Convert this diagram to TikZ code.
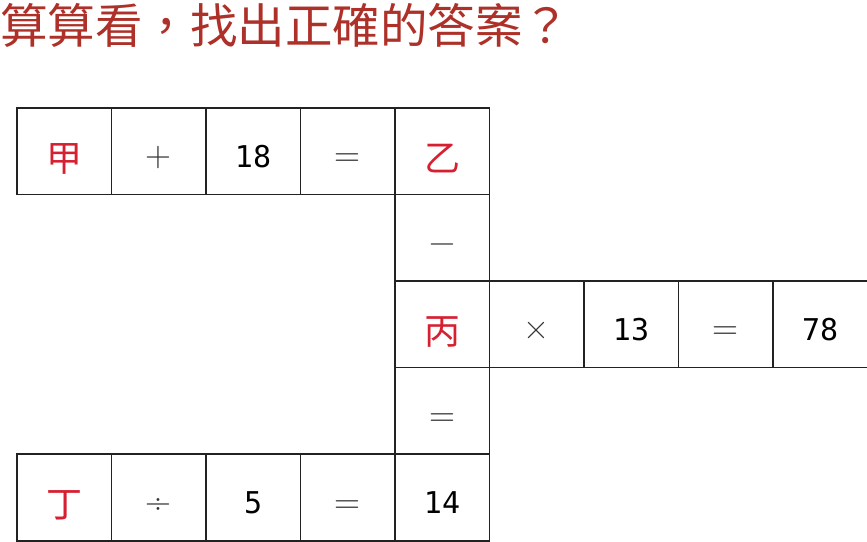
\documentclass[tikz,border=0pt]{standalone}
\usepackage{fontspec}
\newfontfamily\cjk{Noto Sans CJK TC}
\newfontfamily\digitfont{DejaVu Sans Mono}
\definecolor{titlered}{HTML}{AE3129}
\definecolor{charred}{HTML}{D61F30}
\definecolor{linegray}{HTML}{222222}
\definecolor{opgray}{HTML}{333333}
\begin{document}
\begin{tikzpicture}[x=1pt,y=-1pt,
  cellbox/.style={draw=linegray,line width=1.6pt,minimum width=94.5pt,minimum height=86.6pt,inner sep=0pt,anchor=north west,text depth=0pt},
  redch/.style={cellbox,text=charred,font=\cjk\fontsize{36}{36}\selectfont,text height=40pt},
  opch/.style={cellbox,text=opgray,font=\fontsize{36}{36}\selectfont,text height=31pt},
  numch/.style={cellbox,text=black,font=\digitfont\fontsize{30}{30}\selectfont,text height=32pt}]
\useasboundingbox (0,0) rectangle (867,541);
\node[anchor=west,text=titlered,font=\cjk\fontsize{47.5}{47.5}\selectfont,inner sep=0pt] (title) at (0,25) {算算看，找出正確的答案？};
% row 0
\node[redch] (a1) at (16,107) {甲};
\node[opch]  (a2) at (110.5,107) {+};
\node[numch] (a3) at (205,107) {18};
\node[opch]  (a4) at (299.5,107) {=};
\node[redch] (a5) at (394,107) {乙};
% row 1
\node[opch]  (b5) at (394,193.6) {−};
% row 2
\node[redch] (c5) at (394,280.2) {丙};
\node[opch]  (c6) at (488.5,280.2) {×};
\node[numch] (c7) at (583,280.2) {13};
\node[opch]  (c8) at (677.5,280.2) {=};
\node[numch] (c9) at (772,280.2) {78};
% row 3
\node[opch]  (d5) at (394,366.8) {=};
% row 4
\node[redch] (e1) at (16,453.4) {丁};
\node[opch]  (e2) at (110.5,453.4) {÷};
\node[numch] (e3) at (205,453.4) {5};
\node[opch]  (e4) at (299.5,453.4) {=};
\node[numch] (e5) at (394,453.4) {14};
\end{tikzpicture}
\end{document}
